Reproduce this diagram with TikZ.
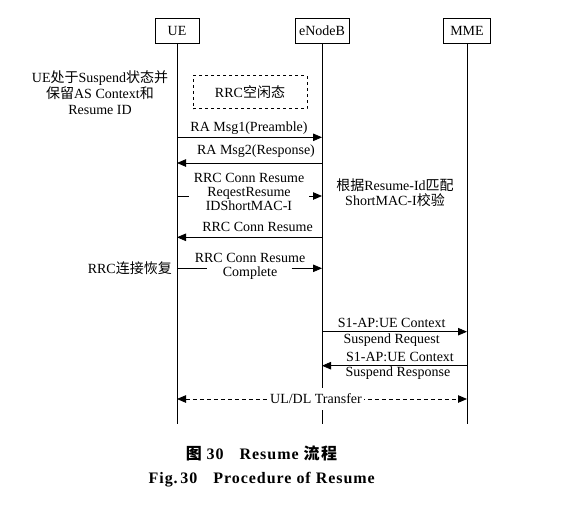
\documentclass[tikz,border=0pt]{standalone}
\usepackage{fontspec}
\setmainfont{Liberation Serif}
\newfontfamily\cjk{Noto Sans CJK SC}
\newfontfamily\cjkcap[LetterSpace=10]{Noto Sans CJK SC}
\newfontfamily\capfont[LetterSpace=6]{Liberation Serif}
\usetikzlibrary{arrows.meta}
\begin{document}
\begin{tikzpicture}[x=1pt,y=-1pt,
  every node/.style={font=\fontsize{14}{14}\selectfont},
  actor/.style={draw,line width=0.8pt,minimum height=25pt,inner sep=2pt},
  life/.style={line width=0.8pt},
  msg/.style={line width=0.8pt,-{Triangle[length=9pt,width=7.5pt]}},
  twoway/.style={line width=0.8pt,dash pattern=on 4pt off 3pt,{Triangle[length=9pt,width=7.5pt]}-{Triangle[length=9pt,width=7.5pt]}},
  lbl/.style={inner sep=1pt,align=center}]
\useasboundingbox (0,0) rectangle (566,507);
% actors
\node[actor,minimum width=44pt] (ue) at (177,30.5) {UE};
\node[actor,minimum width=54pt] (enb) at (322,30.5) {eNodeB};
\node[actor,minimum width=47pt] (mme) at (467,30.5) {MME};
\coordinate (ueEnd) at (177,424);
\coordinate (enbEnd) at (322,424);
\coordinate (mmeEnd) at (467,424);
\draw[life] (ue) -- (ueEnd);
\draw[life] (enb) -- (enbEnd);
\draw[life] (mme) -- (mmeEnd);
% notes
\node[lbl,font=\fontsize{14}{16}\selectfont] (note1) at (100,93)
  {UE{\cjk 处于}Suspend{\cjk 状态并}\\{\cjk 保留}AS Context{\cjk 和}\\Resume ID};
\node[draw,dashed,line width=0.8pt,minimum width=114pt,minimum height=33pt] (idle) at (250,92.3) {RRC{\cjk 空闲态}};
% msg1
\draw[msg] (ue |- 0,137.3) -- (enb |- 0,137.3);
\node[lbl] (m1) at (249,127.7) {RA Msg1(Preamble)};
% msg2
\draw[msg] (enb |- 0,163) -- (ue |- 0,163);
\node[lbl] (m2) at (256,150.7) {RA Msg2(Response)};
% msg3
\draw[msg] (ue |- 0,196) -- (enb |- 0,196);
\node[lbl,fill=white,inner xsep=5pt,font=\fontsize{14}{13.7}\selectfont] (m3) at (249,192)
  {RRC Conn Resume\\ReqestResume\\IDShortMAC-I};
\node[lbl,font=\fontsize{14}{15}\selectfont] (chk) at (395,192.5)
  {{\cjk 根据}Resume-Id{\cjk 匹配}\\ShortMAC-I{\cjk 校验}};
% msg4
\draw[msg] (enb |- 0,237.3) -- (ue |- 0,237.3);
\node[lbl] (m4) at (257.5,227.3) {RRC Conn Resume};
% msg5
\coordinate (c5) at (249,268.3);
\draw[life] (ue |- c5) -- ([xshift=-42.5pt]c5);
\draw[msg] ([xshift=42.5pt]c5) -- (enb |- c5);
\node[lbl,font=\fontsize{14}{14}\selectfont] (m5) at (250,266.3) {RRC Conn Resume\\Complete};
\node[lbl,anchor=east,inner sep=0pt] (rec) at (172,268.3) {RRC{\cjk 连接恢复}};
% S1 request
\draw[msg] (enb |- 0,331.7) -- (mme |- 0,331.7);
\node[lbl] (s1a) at (391.7,322.7) {S1-AP:UE Context};
\node[lbl] (s1b) at (391.7,340.5) {Suspend Request};
% S1 response
\draw[msg] (mme |- 0,365.7) -- (enb |- 0,365.7);
\node[lbl] (s2a) at (400,357.3) {S1-AP:UE Context};
\node[lbl] (s2b) at (398,373) {Suspend Response};
% UL/DL
\draw[twoway] (ue |- 0,399) -- (mme |- 0,399);
\node[lbl,fill=white,inner xsep=2pt,inner ysep=6pt] (ul) at (316,399) {UL/DL Transfer};
% caption
\node[font=\capfont\bfseries\fontsize{16}{16}\selectfont] (cap1) at (261.5,453)
  {{\cjkcap\bfseries 图} 30\quad Resume {\cjkcap\bfseries 流程}};
\node[font=\capfont\bfseries\fontsize{16}{16}\selectfont] (cap2) at (261.7,480)
  {Fig.\,30\quad Procedure of Resume};
\end{tikzpicture}
\end{document}
